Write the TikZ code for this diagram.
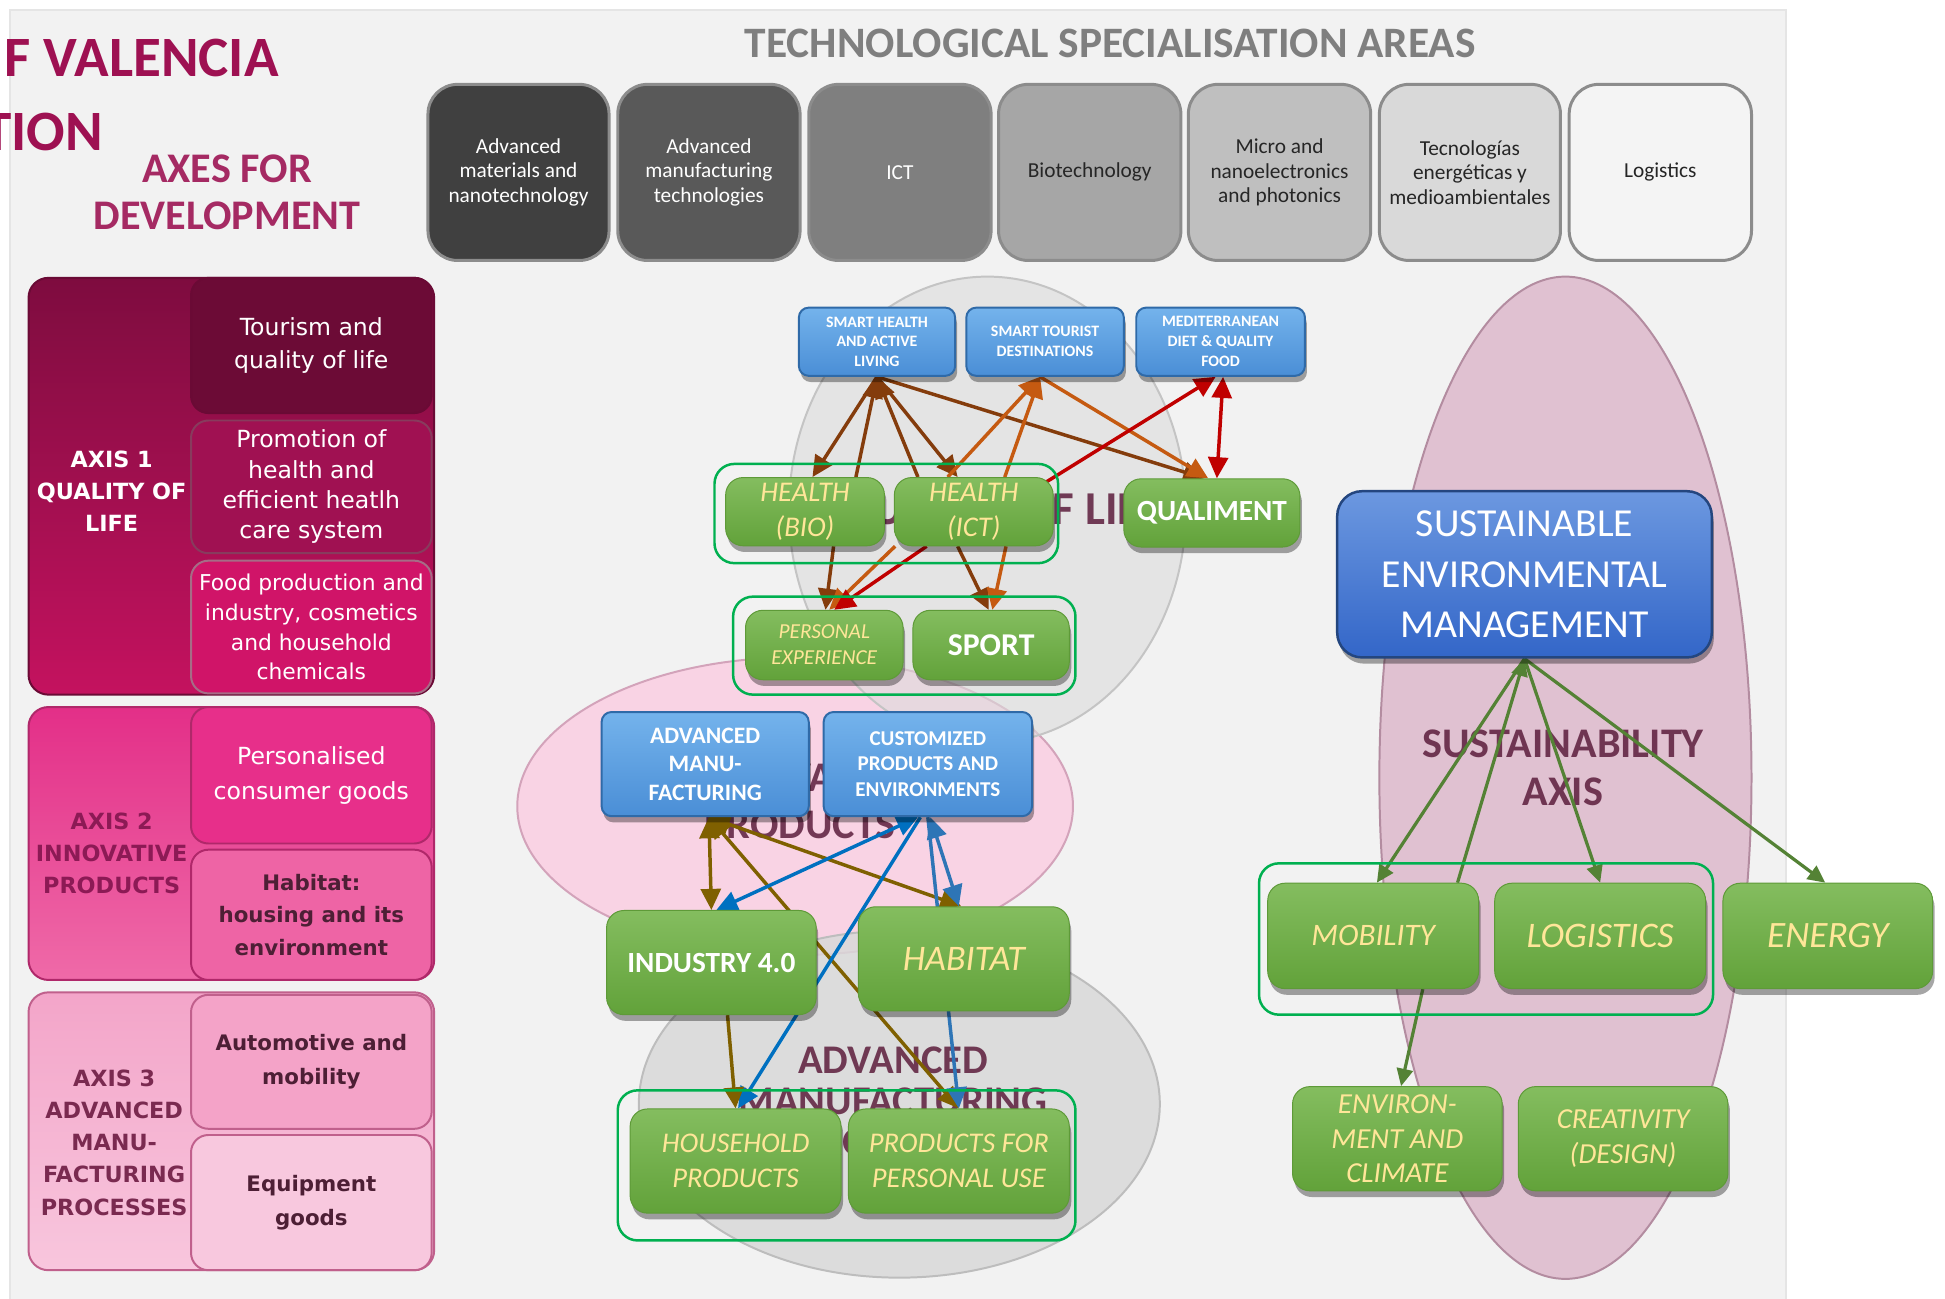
\documentclass[tikz,border=0pt]{standalone}
\usepackage{fontspec}
\setmainfont{Carlito}
\newfontfamily\dejavu{DejaVu Sans}
\usetikzlibrary{arrows.meta,shadows,calc}
\pgfdeclarelayer{back}
\pgfdeclarelayer{mid}
\pgfsetlayers{back,mid,main}
\newcommand\fs[2]{\fontsize{#1}{#2}\selectfont}
\newcommand\bx[6]{\node[#1,minimum width={(#5-#3)*0.5pt},minimum height={(#6-#4)*0.5pt},inner sep=0pt] (#2) at ({(#3+#5)/2},{(#4+#6)/2})}
\definecolor{bgc}{HTML}{F2F2F2}
\definecolor{magt}{HTML}{9E1152}
\definecolor{axh}{HTML}{A52A63}
\definecolor{techt}{HTML}{7F7F7F}
\definecolor{tbd}{HTML}{8C8C8C}
\definecolor{ta}{HTML}{404040}
\definecolor{tb}{HTML}{595959}
\definecolor{tc}{HTML}{7F7F7F}
\definecolor{td}{HTML}{A6A6A6}
\definecolor{te}{HTML}{BFBFBF}
\definecolor{tf}{HTML}{D9D9D9}
\definecolor{tg}{HTML}{F4F4F4}
\definecolor{tdark}{HTML}{262626}
\definecolor{a1t}{HTML}{7E0C3F}
\definecolor{a1b}{HTML}{C4125F}
\definecolor{a1d}{HTML}{6A0A35}
\definecolor{s11c}{HTML}{6C0B36}
\definecolor{s12c}{HTML}{A01152}
\definecolor{s13c}{HTML}{D01468}
\definecolor{a2t}{HTML}{E32F88}
\definecolor{a2b}{HTML}{EF6AA8}
\definecolor{a2d}{HTML}{B0286A}
\definecolor{s21c}{HTML}{E72F8A}
\definecolor{s22c}{HTML}{EE64A5}
\definecolor{a2l}{HTML}{8C1A55}
\definecolor{a3t}{HTML}{F3A5C9}
\definecolor{a3b}{HTML}{F8C6DD}
\definecolor{a3d}{HTML}{C0608C}
\definecolor{s31c}{HTML}{F4A3C8}
\definecolor{s32c}{HTML}{F8C8DE}
\definecolor{a3l}{HTML}{7A2A50}
\definecolor{dk}{HTML}{4D1F35}
\definecolor{g1}{HTML}{84BD5F}
\definecolor{g2}{HTML}{62A23A}
\definecolor{gd}{HTML}{5E9A38}
\definecolor{grpc}{HTML}{00B050}
\definecolor{b1}{HTML}{74B3EC}
\definecolor{b2}{HTML}{4A8ED6}
\definecolor{bd}{HTML}{2F6AA8}
\definecolor{sm1}{HTML}{6C98E0}
\definecolor{sm2}{HTML}{3366C8}
\definecolor{smd}{HTML}{24467F}
\definecolor{ylwc}{HTML}{FFE699}
\definecolor{ellt}{HTML}{5C1D3C}
\definecolor{cbrown}{HTML}{843C0C}
\definecolor{corange}{HTML}{C55A11}
\definecolor{cred}{HTML}{C00000}
\definecolor{cbrowntwo}{HTML}{7F6000}
\definecolor{cblue}{HTML}{0070C0}
\definecolor{cbluetwo}{HTML}{2E75B6}
\definecolor{cgreen}{HTML}{548235}
\definecolor{sae}{HTML}{E0C1D1}
\definecolor{sad}{HTML}{B38CA0}
\definecolor{ipe}{HTML}{F9D3E4}
\definecolor{ipd}{HTML}{D3A3BA}
\definecolor{ame}{HTML}{D9D9D9}
\definecolor{amd}{HTML}{BDBDBD}
\definecolor{qle}{HTML}{DCDCDC}
\definecolor{qld}{HTML}{C4C4C4}
\tikzset{
 tech/.style={draw=tbd,line width=1.2pt,rounded corners=12pt,align=center,font=\fs{8.6}{9.8}},
 axo/.style={line width=0.8pt,rounded corners=8pt},
 sub/.style={line width=0.8pt,rounded corners=7pt,align=center,font=\dejavu\fs{9.5}{13.5}},
 axl/.style={align=center,font=\dejavu\bfseries\fs{9}{13},inner sep=0pt},
 shad/.style={drop shadow={shadow xshift=0.8pt,shadow yshift=-2.5pt,opacity=0.35,fill=black}},
 gbox/.style={rounded corners=7pt,top color=g1,bottom color=g2,draw=gd,line width=0.4pt,align=center,shad},
 bbox/.style={rounded corners=4pt,top color=b1,bottom color=b2,draw=bd,line width=0.8pt,align=center,text=white,shad},
 sembox/.style={rounded corners=10pt,top color=sm1,bottom color=sm2,draw=smd,line width=1pt,align=center,text=white,shad},
 yt/.style={text=ylwc},
 wt/.style={text=white},
 grp/.style={draw=grpc,line width=1pt,rounded corners=8pt},
 ellab/.style={text=ellt,opacity=0.85,font=\bfseries,align=center,inner sep=0pt},
 tip/.tip={Triangle[length=8.5pt,width=8pt]},
 rtip/.tip={Triangle[length=7pt,width=6.5pt]},
 tarr/.style={line width=1.4pt,-tip},
 tbarr/.style={line width=1.4pt,tip-tip},
 rarr/.style={line width=1.3pt,cgreen,-rtip}
}
\begin{document}
\begin{tikzpicture}[x=0.5pt,y=-0.5pt]
\useasboundingbox (0,0) rectangle (1568,1047);
\begin{pgfonlayer}{back}
\fill[white] (0,0) rectangle (1568,1047);
\fill[bgc] (8,8) rectangle (1440,1047);
\draw[black!10,line width=0.8pt] (8,1047) -- (8,8) -- (1440,8) -- (1440,1047);
% ellipses
\filldraw[fill=sae,draw=sad,line width=0.8pt] (1262,627) ellipse [x radius=75pt,y radius=202pt];
\filldraw[fill=ipe,draw=ipd,line width=0.8pt] (641,650) ellipse [x radius=112pt,y radius=60pt];
\filldraw[fill=ame,draw=amd,line width=0.8pt,fill opacity=0.85] (725,890) ellipse [x radius=105pt,y radius=70pt];
\filldraw[fill=qle,draw=qld,line width=0.8pt,fill opacity=0.6] (796,411) ellipse [x radius=80pt,y radius=94pt];
\node[ellab,font=\bfseries\fs{19}{21}] (qlab) at (807,413) {QUALITY OF LIFE};
\node[ellab,font=\bfseries\fs{17}{19}] (iplab) at (645,646) {INNOVATIVE\\PRODUCTS};
\node[ellab,font=\bfseries\fs{16.4}{16.5}] (amlab) at (720,888) {ADVANCED\\MANUFACTURING\\PROCESSES};
\node[ellab,font=\bfseries\fs{17}{19}] (salab) at (1260,619) {SUSTAINABILITY\\AXIS};
\end{pgfonlayer}
% titles
\node[anchor=base east,text=magt,font=\bfseries\fs{23}{26},inner sep=0pt] (ttl1) at (225,62) {F VALENCIA};
\node[anchor=base west,text=magt,font=\bfseries\fs{23}{26},inner sep=0pt] (ttl2) at (-14,121) {TION};
\node[text=axh,font=\bfseries\fs{17}{19},align=center,inner sep=0pt] (axes) at (183,155) {AXES FOR\\DEVELOPMENT};
\node[text=techt,font=\bfseries\fs{17.5}{20},inner sep=0pt] (techtitle) at (895,35) {TECHNOLOGICAL SPECIALISATION AREAS};
% technology boxes
\bx{tech,fill=ta,text=white}{tA}{345}{68}{491}{210}{Advanced\\materials and\\nanotechnology};
\bx{tech,fill=tb,text=white}{tB}{498}{68}{645}{210}{Advanced\\manufacturing\\technologies};
\bx{tech,fill=tc,text=white}{tC}{652}{68}{799}{210}{ICT};
\bx{tech,fill=td,text=tdark}{tD}{805}{68}{952}{210}{Biotechnology};
\bx{tech,fill=te,text=tdark}{tE}{958}{68}{1105}{210}{Micro and\\nanoelectronics\\and photonics};
\bx{tech,fill=tf,text=tdark}{tF}{1112}{68}{1258}{210}{Tecnologías\\energéticas y\\medioambientales};
\bx{tech,fill=tg,text=tdark}{tG}{1265}{68}{1412}{210}{Logistics};
% axis 1
\bx{axo,top color=a1t,bottom color=a1b,draw=a1d}{ax1}{23}{224}{350}{560}{};
\bx{sub,fill=s11c,draw=a1d,text=white}{s11}{154}{224}{348}{333}{Tourism and\\quality of life};
\bx{sub,fill=s12c,draw=a1d!80,text=white,font=\dejavu\fs{9.5}{12.2}}{s12}{154}{339}{348}{446}{Promotion of\\health and\\efficient heatlh\\care system};
\bx{sub,fill=s13c,draw=a1d!60,text=white,font=\dejavu\fs{8.8}{12}}{s13}{154}{452}{348}{559}{Food production and\\industry, cosmetics\\and household\\chemicals};
\node[axl,text=white] (l1) at (90,396) {AXIS 1\\QUALITY OF\\LIFE};
% axis 2
\bx{axo,top color=a2t,bottom color=a2b,draw=a2d}{ax2}{23}{570}{350}{790}{};
\bx{sub,fill=s21c,draw=a2d,text=white,font=\dejavu\fs{9.5}{14}}{s21}{154}{570}{348}{680}{Personalised\\consumer goods};
\bx{sub,fill=s22c,draw=a2d,text=dk,font=\dejavu\bfseries\fs{8.6}{13}}{s22}{154}{685}{348}{790}{Habitat:\\housing and its\\environment};
\node[axl,text=a2l] (l2) at (90,688) {AXIS 2\\INNOVATIVE\\PRODUCTS};
% axis 3
\bx{axo,top color=a3t,bottom color=a3b,draw=a3d}{ax3}{23}{800}{350}{1024}{};
\bx{sub,fill=s31c,draw=a3d,text=dk,font=\dejavu\bfseries\fs{8.6}{13.5}}{s31}{154}{802}{348}{910}{Automotive and\\mobility};
\bx{sub,fill=s32c,draw=a3d,text=dk,font=\dejavu\bfseries\fs{8.6}{13.5}}{s32}{154}{915}{348}{1024}{Equipment\\goods};
\node[axl,text=a3l] (l3) at (92,921) {AXIS 3\\ADVANCED\\MANU-\\FACTURING\\PROCESSES};
% quality of life cluster
\bx{bbox,font=\bfseries\fs{6.4}{8}}{sh}{644}{248}{770}{303}{SMART HEALTH\\AND ACTIVE\\LIVING};
\bx{bbox,font=\bfseries\fs{6.4}{8}}{st}{779}{248}{906}{303}{SMART TOURIST\\DESTINATIONS};
\bx{bbox,font=\bfseries\fs{6.4}{8}}{md}{916}{248}{1052}{303}{MEDITERRANEAN\\DIET \& QUALITY\\FOOD};
\bx{grp}{g1}{576}{374}{853}{454}{};
\bx{grp}{g2}{591}{481}{867}{560}{};
\bx{gbox,yt,font=\itshape\fs{11.5}{14}}{hbio}{585}{385}{713}{440}{HEALTH\\(BIO)};
\bx{gbox,yt,font=\itshape\fs{11.5}{14}}{hict}{721}{385}{849}{440}{HEALTH\\(ICT)};
\bx{gbox,wt,font=\bfseries\fs{11.8}{14}}{qual}{906}{386}{1048}{441}{QUALIMENT};
\bx{gbox,yt,font=\itshape\fs{8.6}{10.5}}{pe}{601}{492}{728}{548}{PERSONAL\\EXPERIENCE};
\bx{gbox,wt,font=\bfseries\fs{12.8}{14}}{sport}{736}{492}{862}{548}{SPORT};
% innovative products cluster
\bx{bbox,font=\bfseries\fs{9.5}{11.5}}{am}{485}{574}{652}{658}{ADVANCED\\MANU-\\FACTURING};
\bx{bbox,font=\bfseries\fs{8.5}{10.2}}{cu}{664}{574}{832}{658}{CUSTOMIZED\\PRODUCTS AND\\ENVIRONMENTS};
\bx{gbox,wt,font=\bfseries\fs{11.8}{14}}{ind}{489}{734}{658}{818}{INDUSTRY 4.0};
\bx{gbox,yt,font=\itshape\fs{14.5}{16}}{hab}{692}{731}{862}{815}{HABITAT};
\bx{grp}{g3}{498}{879}{867}{1000}{};
\bx{gbox,yt,font=\itshape\fs{11.5}{14}}{hh}{508}{894}{678}{978}{HOUSEHOLD\\PRODUCTS};
\bx{gbox,yt,font=\itshape\fs{11.5}{14}}{ppu}{684}{894}{862}{978}{PRODUCTS FOR\\PERSONAL USE};
% sustainability cluster
\bx{sembox,font=\fs{16}{20.5}}{sem}{1078}{396}{1380}{530}{SUSTAINABLE\\ENVIRONMENTAL\\MANAGEMENT};
\bx{grp}{g4}{1015}{696}{1381}{818}{};
\bx{gbox,yt,font=\itshape\fs{12.6}{14}}{mob}{1022}{712}{1192}{797}{MOBILITY};
\bx{gbox,yt,font=\itshape\fs{14.5}{16}}{log}{1205}{712}{1375}{797}{LOGISTICS};
\bx{gbox,yt,font=\itshape\fs{15}{16}}{en}{1389}{712}{1558}{797}{ENERGY};
\bx{gbox,yt,font=\itshape\fs{11.7}{14}}{env}{1042}{876}{1211}{960}{ENVIRON-\\MENT AND\\CLIMATE};
\bx{gbox,yt,font=\itshape\fs{11.7}{14}}{cre}{1224}{876}{1393}{960}{CREATIVITY\\(DESIGN)};
% connectors
\begin{pgfonlayer}{mid}
\draw[tarr,cbrown] (sh.south) -- ($(hbio.north)+(6,0)$);
\draw[tarr,cbrown] ($(hbio.north)+(41,0)$) -- (sh.south);
\draw[tarr,cbrown] ($(hict.north)+(-45,0)$) -- (sh.south);
\draw[tarr,cbrown] (sh.south) -- ($(hict.north)+(-13,0)$);
\draw[tarr,cbrown] (sh.south) -- ($(qual.north)+(-6,0)$);
\draw[tarr,corange] ($(hict.north)+(-21,0)$) -- ($(st.south)+(-4,0)$);
\draw[tarr,corange] ($(hict.north)+(25,0)$) -- ($(st.south)+(-4,0)$);
\draw[tarr,corange] ($(st.south)+(-4,0)$) -- ($(qual.north)+(-3,0)$);
\draw[tarr,cred] ($(hict.north east)+(-6,4)$) -- ($(md.south)+(-4,0)$);
\draw[tbarr,cred] ($(md.south)+(2,0)$) -- ($(qual.north)+(4,0)$);
\draw[tarr,cbrown] ($(hbio.south)+(23,0)$) -- ($(pe.north)+(1,0)$);
\draw[tarr,corange] ($(hict.south west)+(1,0)$) -- ($(pe.north)+(4,0)$);
\draw[tarr,cred] ($(hict.south)+(-38,0)$) -- ($(pe.north)+(8,0)$);
\draw[tarr,cbrown] ($(hict.south)+(-13,0)$) -- ($(sport.north)+(-2,0)$);
\draw[tarr,corange] ($(hict.south)+(26,0)$) -- ($(sport.north)+(1,0)$);
\draw[tbarr,cbrowntwo] ($(am.south)+(3,0)$) -- (ind.north);
\draw[tbarr,cbrowntwo] ($(am.south)+(3,0)$) -- ($(hab.north)+(-2,0)$);
\draw[tbarr,cbrowntwo] ($(am.south)+(3,0)$) -- (ppu.north);
\draw[tbarr,cblue] ($(cu.south)+(-8,0)$) -- ($(ind.north)+(4,0)$);
\draw[tarr,cblue] ($(cu.south)+(-6,0)$) -- ($(hh.north)+(2,0)$);
\draw[tbarr,cbluetwo] ($(cu.south)+(2,0)$) -- ($(hab.north)+(-4,0)$);
\draw[tarr,cbluetwo] (cu.south) -- (ppu.north);
\draw[tarr,cbrowntwo] ($(ind.south)+(13,0)$) -- (hh.north);
\draw[rarr] (sem.south) -- ($(mob.north)+(3,0)$);
\draw[rarr] ($(mob.north)+(68,0)$) -- (sem.south);
\draw[rarr] (sem.south) -- (log.north);
\draw[rarr] (sem.south) -- ($(en.north)+(-2,0)$);
\draw[rarr] ($(mob.south)+(40,0)$) -- ($(env.north)+(3,0)$);
\end{pgfonlayer}
\end{tikzpicture}
\end{document}
